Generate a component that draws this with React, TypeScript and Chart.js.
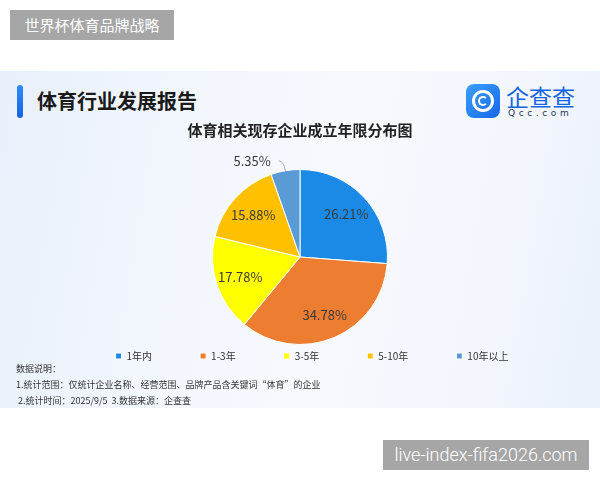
import React, { useEffect, useRef } from "react";
import { Chart, registerables } from "chart.js";

Chart.register(...registerables);

const categories = ["1年内", "1-3年", "3-5年", "5-10年", "10年以上"];
const shares = [26.21, 34.78, 17.78, 15.88, 5.35];
const sliceColors = ["#1b8ae6", "#ed7d31", "#ffff00", "#ffc000", "#5b9bd5"];
const chartTitle = "体育相关现存企业成立年限分布图";
const reportTitle = "体育行业发展报告";
const topTag = "世界杯体育品牌战略";
const watermark = "live-index-fifa2026.com";
const notes = [
  "数据说明：",
  "1.统计范围：仅统计企业名称、经营范围、品牌产品含关键词“体育”的企业",
  " 2.统计时间：2025/9/5  3.数据来源：企查查",
];

const CJK = "'Noto Sans CJK SC', 'Noto Sans', sans-serif";

const legendNudge = {
  id: "legendNudge",
  afterLayout(chart: any) {
    const lg = chart.legend;
    if (!lg) return;
    const dy = -42;
    const dx = 12;
    lg.top += dy;
    lg.bottom += dy;
    lg.left += dx;
    lg.right += dx;
  },
};

const sliceLabels = {
  id: "sliceLabels",
  afterDatasetsDraw(chart: any) {
    const meta = chart.getDatasetMeta(0);
    const ctx = chart.ctx;
    const values = chart.data.datasets[0].data as number[];
    meta.data.forEach((arc: any, i: number) => {
      const { x, y, startAngle, endAngle, outerRadius } = arc.getProps(
        ["x", "y", "startAngle", "endAngle", "outerRadius"],
        true
      );
      const mid = (startAngle + endAngle) / 2;
      const text = values[i].toFixed(2) + "%";
      ctx.save();
      ctx.font = `13px ${CJK}`;
      ctx.fillStyle = "#3a3a3a";
      ctx.textBaseline = "middle";
      if (endAngle - startAngle > 0.5) {
        const r = outerRadius * 0.72;
        ctx.textAlign = "center";
        ctx.fillText(text, x + Math.cos(mid) * r, y + Math.sin(mid) * r);
      } else {
        const ex = x + Math.cos(mid) * outerRadius;
        const ey = y + Math.sin(mid) * outerRadius;
        const bx = x + Math.cos(mid) * (outerRadius + 10);
        const by = y + Math.sin(mid) * (outerRadius + 10);
        ctx.strokeStyle = "#a8a8a8";
        ctx.lineWidth = 1;
        ctx.beginPath();
        ctx.moveTo(ex, ey);
        ctx.quadraticCurveTo(bx, by, bx - 5, by);
        ctx.stroke();
        ctx.textAlign = "right";
        ctx.fillText(text, bx - 13, by);
      }
      ctx.restore();
    });
  },
};

function PieChart() {
  const ref = useRef<HTMLCanvasElement | null>(null);
  useEffect(() => {
    if (!ref.current) return;
    const chart = new Chart(ref.current, {
      type: "pie",
      data: {
        labels: categories,
        datasets: [
          {
            data: shares,
            backgroundColor: sliceColors,
            borderColor: "#ffffff",
            borderWidth: 1,
          },
        ],
      },
      options: {
        responsive: false,
        animation: false,
        layout: { padding: { left: 40, right: 40, top: 0, bottom: 0 } },
        plugins: {
          tooltip: { enabled: false },
          title: {
            display: true,
            text: chartTitle,
            color: "#222222",
            font: { family: CJK, size: 15, weight: "bold" },
            padding: { top: 4, bottom: 30 },
          },
          legend: {
            display: true,
            position: "bottom",
            align: "center",
            labels: {
              boxWidth: 6,
              boxHeight: 6,
              padding: 48,
              color: "#333333",
              font: { family: CJK, size: 10 },
            },
          },
        },
      },
      plugins: [legendNudge, sliceLabels],
    } as any);
    return () => chart.destroy();
  }, []);
  return (
    <canvas
      ref={ref}
      width={600}
      height={296}
      style={{ position: "absolute", left: 0, top: 117, width: 600, height: 296 }}
    />
  );
}

export default function App() {
  return (
    <div
      style={{
        position: "fixed",
        left: 0,
        top: 0,
        width: 600,
        height: 480,
        background: "#ffffff",
        overflow: "hidden",
        fontFamily: CJK,
      }}
    >
      <div
        style={{
          position: "absolute",
          left: 10,
          top: 10,
          width: 164,
          height: 30,
          background: "#a6a6a6",
          color: "#ffffff",
          fontSize: 15,
          lineHeight: "30px",
          textAlign: "center",
        }}
      >
        {topTag}
      </div>
      <div
        style={{
          position: "absolute",
          left: 0,
          top: 71,
          width: 600,
          height: 337,
          background:
            "linear-gradient(100deg, #e9f0fb 0%, #f2f6fd 30%, #f7f9fe 55%, #f3f6fd 80%, #eaf1fb 100%)",
        }}
      />
      <div
        style={{
          position: "absolute",
          left: 17,
          top: 85,
          width: 6,
          height: 33,
          borderRadius: 3,
          background: "linear-gradient(180deg, #2d8cf8, #1463e6)",
        }}
      />
      <div
        style={{
          position: "absolute",
          left: 37,
          top: 88,
          fontSize: 20,
          fontWeight: 700,
          color: "#1a1a1a",
          lineHeight: "26px",
        }}
      >
        {reportTitle}
      </div>
      <div
        style={{
          position: "absolute",
          left: 466,
          top: 84,
          width: 34,
          height: 34,
          borderRadius: 8,
          background: "linear-gradient(135deg, #3aa0fb, #1668e8)",
        }}
      >
        <div
          style={{
            position: "absolute",
            left: 6,
            top: 6,
            width: 16,
            height: 16,
            borderRadius: "50%",
            border: "3px solid #ffffff",
          }}
        />
        <div
          style={{
            position: "absolute",
            left: 12,
            top: 12,
            width: 6,
            height: 6,
            borderRadius: "50%",
            border: "2px solid #ffffff",
            borderRightColor: "transparent",
          }}
        />
      </div>
      <div
        style={{
          position: "absolute",
          left: 506,
          top: 82,
          fontSize: 23,
          color: "#1565e0",
          lineHeight: "28px",
          letterSpacing: 0,
        }}
      >
        企查查
      </div>
      <div
        style={{
          position: "absolute",
          left: 508,
          top: 107,
          fontSize: 9,
          color: "#1d3557",
          lineHeight: "12px",
          letterSpacing: 3.6,
          fontFamily: "'DejaVu Sans', sans-serif",
        }}
      >
        Qcc.com
      </div>
      <PieChart />
      <div
        style={{
          position: "absolute",
          left: 16,
          top: 361,
          fontSize: 9,
          color: "#333333",
          lineHeight: "16px",
          whiteSpace: "pre",
        }}
      >
        {notes.map((n, i) => (
          <div key={i}>{n}</div>
        ))}
      </div>
      <div
        style={{
          position: "absolute",
          left: 383,
          top: 440,
          width: 206,
          height: 30,
          background: "#a6a6a6",
          color: "#ffffff",
          fontSize: 18,
          fontWeight: 300,
          lineHeight: "30px",
          textAlign: "center",
          fontFamily: "Roboto, 'Liberation Sans', sans-serif",
        }}
      >
        {watermark}
      </div>
    </div>
  );
}
